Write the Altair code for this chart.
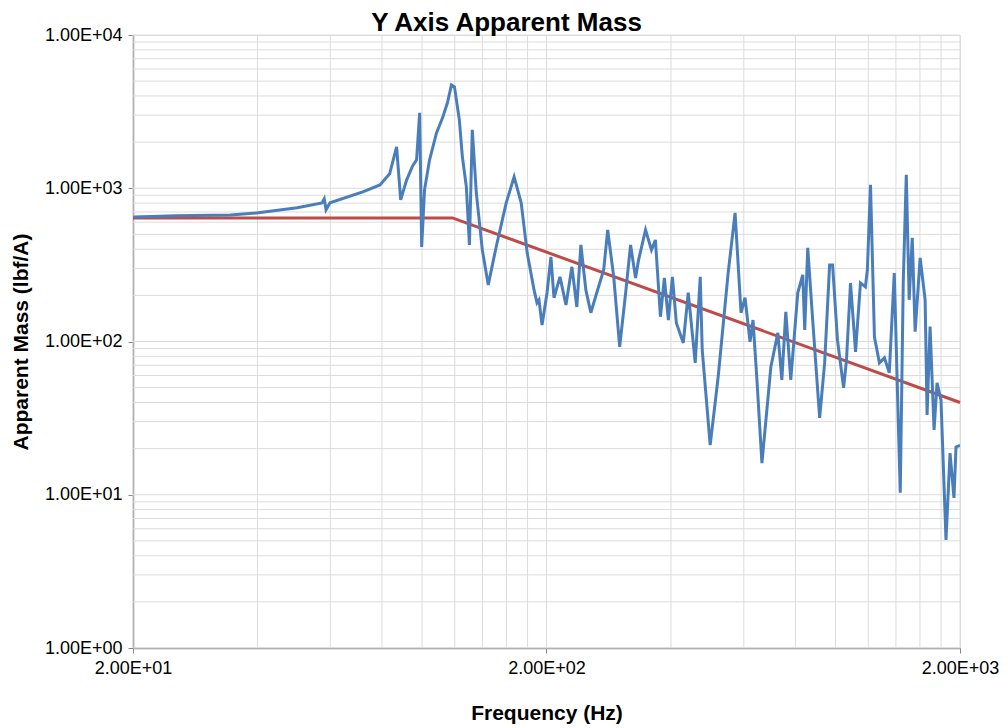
import altair as alt
import pandas as pd

# Blue measured curve: frequency (Hz) and apparent mass (lbf/A)
freq = [20.1, 25.4, 34.4, 40.2, 49.9, 57.3, 58.0, 58.6, 59.9, 71.9, 79.1, 83.5, 86.8, 88.8,
        91.8, 94.9, 97.0, 98.7, 99.8, 101.4, 104.3, 108.4, 112.1, 115.2, 117.8, 119.8, 123.1,
        125.2, 128.0, 130.2, 132.3, 135.3, 139.9, 144.6, 151.1, 159.8, 167.0, 173.7, 179.6,
        186.6, 189.7, 191.8, 195.1, 200.6, 205.0, 208.5, 215.6, 222.9, 230.4, 236.8, 242.2,
        249.0, 256.0, 264.6, 275.0, 281.2, 290.8, 300.6, 310.8, 319.4, 328.4, 334.0, 347.2,
        358.8, 366.8, 377.2, 385.6, 394.2, 403.2, 412.2, 428.4, 440.4, 457.8, 470.8, 476.0,
        497.6, 520.2, 550.0, 571.6, 590.8, 604.2, 621.2, 631.6, 645.6, 663.8, 697.6, 725.2,
        741.6, 758.2, 779.4, 810.4, 833.2, 842.4, 856.6, 880.6, 915.4, 941.2, 967.6, 983.8,
        1011, 1046, 1063, 1087, 1118, 1149, 1181, 1194, 1215, 1242, 1277, 1313, 1349, 1387,
        1410, 1434, 1458, 1483, 1507, 1533, 1558, 1602, 1647, 1665, 1693, 1731, 1760, 1799,
        1850, 1892, 1934, 1956, 2000]
mass = [650, 661, 670, 691, 745, 803, 853, 723, 803, 947, 1052, 1242, 1863, 840,
        1134, 1400, 1532, 3106, 414, 976, 1532, 2299, 2880, 3609, 4729, 4590, 2796,
        1603, 1021, 427, 2405, 933, 396, 234, 414, 803, 1187, 803, 379,
        217, 179, 187, 128, 208, 357, 193, 264, 173, 307, 168, 427,
        217, 154, 208, 293, 535, 264, 92.2, 208, 427, 260, 341, 535,
        396, 460, 145, 260, 138, 264, 132, 97.9, 208, 72.5, 264, 88.1,
        21.1, 58.7, 280, 691, 154, 193, 99.4, 138, 56.2, 16.1, 68.3, 113.8,
        56.2, 156, 56.2, 208, 272, 119, 408, 138, 31.7, 72.5, 316, 316,
        102, 49.8, 75.9, 241, 85.5, 241, 227, 293, 1052, 107, 72.5, 78.2, 62.4, 280,
        53.7, 10.3, 241, 1223, 187, 475, 116, 351, 187, 33.2, 125, 26.5, 53.7, 41.6,
        5.07, 18.7, 9.53, 20.5, 21.0]

# Red reference line
red_f = [20, 118.5, 2000]
red_m = [640, 640, 40]

# Gridlines and tick labels
x_grid = [20, 40, 60, 80, 100, 120, 140, 160, 180,
          200, 400, 600, 800, 1000, 1200, 1400, 1600, 1800, 2000]
y_grid = [k * 10 ** d for d in range(4) for k in range(1, 10)] + [10000]
x_ticks = [20, 200, 2000]
y_ticks = [1, 10, 100, 1000, 10000]

blue_df = pd.DataFrame({"f": freq, "m": mass})
red_df = pd.DataFrame({"f": red_f, "m": red_m})
xg_df = pd.DataFrame({"f": x_grid})
yg_df = pd.DataFrame({"m": y_grid})

FONT = "Liberation Sans"
xs = alt.Scale(type="log", domain=[20, 2000], nice=False)
ys = alt.Scale(type="log", domain=[1, 10000], nice=False)

e = "floor(log(datum.value)/LN10 + 1e-6)"
label_expr = f"format(datum.value / pow(10, {e}), '.2f') + 'E+' + ({e} < 10 ? '0' : '') + {e}"

x_axis = alt.Axis(values=x_ticks, labelExpr=label_expr, grid=False, title="Frequency (Hz)",
                  labelFont=FONT, labelFontSize=18, labelColor="#000000", labelFlush=False,
                  titleFont=FONT, titleFontSize=21, titleFontWeight="bold", titleColor="#000000",
                  titlePadding=25, labelPadding=6, tickSize=5, tickColor="#868686",
                  domainColor="#868686", domainWidth=1.5)
y_axis = alt.Axis(values=y_ticks, labelExpr=label_expr, grid=False, title="Apparent Mass (lbf/A)",
                  labelFont=FONT, labelFontSize=18, labelColor="#000000",
                  titleFont=FONT, titleFontSize=21, titleFontWeight="bold", titleColor="#000000",
                  titlePadding=13, labelPadding=6, tickSize=5, tickColor="#868686",
                  domainColor="#868686", domainWidth=1.5)

vgrid = alt.Chart(xg_df).mark_rule(color="#dcdcdc", strokeWidth=1).encode(
    x=alt.X("f:Q", scale=xs, axis=x_axis))
hgrid = alt.Chart(yg_df).mark_rule(color="#dcdcdc", strokeWidth=1).encode(
    y=alt.Y("m:Q", scale=ys, axis=y_axis))

blue = alt.Chart(blue_df).mark_line(color="#4a7ebb", strokeWidth=3, clip=True).encode(
    x=alt.X("f:Q", scale=xs, axis=x_axis),
    y=alt.Y("m:Q", scale=ys, axis=y_axis),
    order=alt.Order("f:Q"))
red = alt.Chart(red_df).mark_line(color="#be4b48", strokeWidth=3).encode(
    x=alt.X("f:Q", scale=xs, axis=x_axis),
    y=alt.Y("m:Q", scale=ys, axis=y_axis))

chart = alt.layer(vgrid, hgrid, red, blue).properties(
    width=827, height=613,
    title=alt.TitleParams("Y Axis Apparent Mass", font=FONT, fontSize=26, fontWeight="bold",
                          color="#000000", dx=-40, dy=13, offset=3),
    padding={"left": 125, "top": 27, "right": 40, "bottom": 80},
    autosize=alt.AutoSizeParams(type="none"),
).configure_view(stroke=None).configure(background="#ffffff")

chart.save("out.html", embed_options={"renderer": "svg", "actions": False})
